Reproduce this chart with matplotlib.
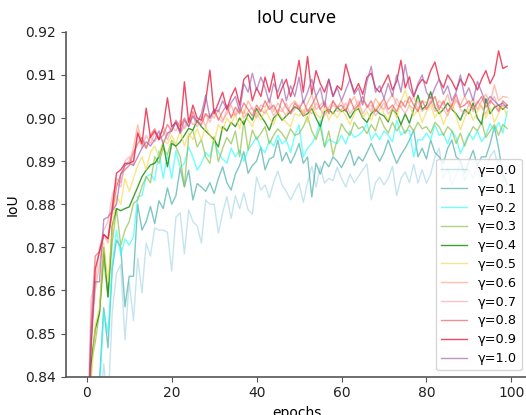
import matplotlib
matplotlib.use("Agg")
import matplotlib.pyplot as plt
import numpy as np

epochs = list(range(100))

# IoU values in thousandths
g00 = [790, 806, 818, 829, 843, 833, 855, 864, 866, 848.5,
       862, 853, 867.5, 859.5, 871, 868, 874.5, 874, 874, 873.5,
       864.5, 877, 878, 868.5, 878.7, 876, 875, 871, 881, 880,
       880, 873.3, 878, 881.8, 876.7, 882, 879, 882.6, 878.7, 877.7,
       886.3, 883.3, 884.5, 881.5, 885, 887.7, 884.5, 883, 881, 883,
       884.9, 880.4, 885, 888.8, 884, 888.8, 884.9, 886, 885.5, 888.6,
       886, 884, 887, 885, 886.5, 888, 889.3, 881, 885, 886.3,
       884.5, 886, 888.8, 882, 886, 887.5, 885, 889.3, 884.9, 888,
       884.9, 887, 891, 893, 886, 888.5, 884.5, 887, 890, 885.5,
       888, 886, 889.5, 884, 887.5, 891, 892.5, 888, 885, 889]
g01 = [800, 812, 826, 839, 856, 846.7, 865, 871.7, 870, 856.2,
       863.3, 863.3, 880, 874, 876, 879.5, 875.5, 880.8, 879, 883.8,
       880, 882, 888.4, 884, 887.9, 881, 884.8, 884, 883, 885,
       882.5, 886, 888.7, 885, 883.3, 887, 889, 892.2, 887.2, 889,
       890, 893.3, 888, 890.5, 891, 894.9, 890, 892, 889.5, 891.5,
       894.1, 889.5, 891, 881.7, 889.5, 887, 890, 888.7, 891, 890,
       888.5, 890.5, 892.6, 889, 891, 890, 892, 894.1, 891.8, 890,
       892, 894.9, 892, 889.5, 891.5, 893, 894.9, 897.2, 891, 893,
       890.5, 894.9, 892, 891, 889.5, 893, 894.9, 891, 890, 887.2,
       890, 892.5, 889, 891, 891, 894, 898, 893, 887, 884.8]
g02 = [795, 808, 820, 838, 855, 850, 866, 874, 868.2, 872,
       870.5, 872.5, 881.7, 882, 886.4, 887, 885.5, 892.4, 886, 891.5,
       886, 892.4, 888.5, 889.5, 893.3, 891, 887.9, 889.5, 892, 891,
       895.3, 892, 890.5, 889.5, 893, 891, 892.6, 890, 892.6, 894,
       895.7, 893, 892, 894.9, 893.5, 896, 894, 894.9, 892, 896,
       898.4, 891, 893, 894.1, 896, 899.5, 893.3, 895, 894.5, 894.1,
       896, 894, 897, 895.5, 896, 897, 898.7, 894.9, 896.5, 895,
       897, 896, 894.5, 899.5, 896, 897, 897.2, 891, 895, 894.9,
       896.5, 895, 898.4, 896, 896.4, 894, 897, 895.5, 891.8, 894,
       896.5, 895, 897, 894.5, 896, 898.7, 897, 899, 896.5, 901.5]
g03 = [805, 843, 848, 855, 867, 858.5, 871, 879, 870.5, 874,
       876, 880.2, 881, 884.1, 886.4, 885, 891, 889.5, 893, 891.5,
       894.9, 893.3, 891, 884.1, 895.7, 897.2, 893.3, 895, 891, 889.5,
       895.7, 889.9, 893, 895.5, 894, 897, 891, 899.5, 892.6, 897.2,
       895, 896.4, 898, 894, 896, 897.5, 896.4, 895, 897.5, 896,
       896.4, 898, 900.3, 897, 895, 898, 893.3, 897, 891.4, 895,
       898.7, 897, 896, 899, 897.5, 898, 896.4, 898.5, 897, 900.3,
       898, 896.5, 899, 897, 898.5, 896.4, 898.4, 897, 899, 897.5,
       898, 896.5, 899, 898, 896, 898, 897, 894.1, 896.5, 893.5,
       896, 898, 897, 899, 895.5, 897, 898.5, 896, 898.5, 897.6]
g04 = [810, 843, 851, 854.8, 870, 858.5, 875, 879, 878.5, 879,
       879.4, 881.7, 884, 886.4, 887.9, 889.1, 889.5, 891, 894.1, 888.7,
       894.1, 893.5, 894.5, 896, 897.6, 897.2, 899.5, 898, 897, 896,
       895, 893.3, 898, 897, 899, 898, 900, 898.5, 901, 899.5,
       902.2, 900.5, 899, 897.2, 900, 901, 899.5, 900.5, 901.5, 902.6,
       902, 900.5, 901, 902.2, 900, 898, 901.5, 902, 901, 902.5,
       901.5, 902, 900, 901.6, 902.2, 900, 899, 901, 902, 901,
       900.5, 899.1, 902, 901, 898.5, 901, 898.8, 902, 905.3, 902,
       903, 906.1, 902.5, 901, 902, 903.5, 902, 901, 899.5, 902,
       901, 903.5, 900, 898.6, 904.5, 901, 902.5, 903, 902, 903]
g05 = [805, 838, 852, 856, 871, 862, 874, 882, 880, 886,
       883, 886, 889, 891, 888, 892, 893.5, 891, 895, 894,
       896, 894, 897, 893.5, 896.5, 895, 897.5, 894.9, 898, 896,
       894.5, 898.5, 897, 900, 898.5, 901, 897.5, 902, 899.5, 898,
       901, 899.5, 902, 900, 898.5, 901.5, 900, 899, 898, 901,
       900.5, 902, 899, 903, 901, 900, 902.5, 899.5, 901.5, 900,
       902, 900.5, 898.5, 901, 903, 900, 901.5, 899.5, 902, 903.5,
       901, 899.5, 902.5, 900, 904, 906.5, 903, 900.5, 902, 899,
       901.5, 903, 900, 902, 898.5, 901, 903.5, 900.5, 897.2, 900,
       902, 899.5, 901.5, 903, 900, 902.5, 899, 901, 903, 900.5]
g06 = [815, 848, 860, 866, 873, 871, 880, 886, 885, 889,
       890, 893, 898.4, 894, 893, 895.5, 894.5, 896, 897, 895,
       897.5, 899, 896.5, 898, 900, 898.5, 899, 900.5, 898, 901,
       900, 902, 899.5, 901, 903, 900.5, 902, 901, 904, 902,
       901, 903, 902.5, 904.5, 901.5, 903.5, 902, 900.5, 903, 904,
       902.5, 901, 903.5, 905.5, 902, 903, 904, 901.5, 903, 902.5,
       904, 902, 903.5, 905, 902.5, 904, 903, 901.5, 904.5, 903,
       902, 904, 905.5, 903, 902.5, 904, 903.5, 905, 902, 904,
       903.5, 905, 902.5, 904, 903, 905.5, 902, 904, 903, 905,
       903, 904.5, 902, 904, 905.5, 903.5, 907.7, 904, 905, 904.8]
g07 = [820, 858, 862, 870, 874, 876, 882, 885, 884, 890,
       891, 889, 897, 893, 896, 894, 896.5, 895, 898, 896,
       898, 897, 899.5, 897.5, 899, 900.5, 898, 899.5, 901, 899,
       901.5, 900, 899, 902, 900.5, 901, 903, 900, 901.5, 902.5,
       900, 902, 901, 903, 900.5, 902, 901.5, 903.5, 901, 902,
       903, 900.5, 902, 901, 903.5, 902, 900.5, 902.5, 904, 901.5,
       902, 903.5, 901, 902.5, 904, 901, 902.5, 903, 900.5, 902,
       903.5, 901, 902, 904.5, 902.5, 901, 903, 902, 904, 901.5,
       902.5, 904, 901.5, 903, 902, 900.5, 903, 904.5, 902, 901,
       903, 901.5, 904, 902.5, 901, 903.5, 905, 902, 903, 902.5]
g08 = [818, 852, 868, 869, 873, 872, 878, 884, 887, 888,
       889, 892, 894, 895.5, 893, 896, 897.5, 895, 896, 898.5,
       897, 899.5, 898, 900, 898, 901.5, 899, 898.5, 901, 900,
       902, 899.5, 901.5, 903, 900, 902.5, 901, 903.5, 902, 900.5,
       903, 901.5, 904, 902, 903, 901, 904.5, 902.5, 901, 903.5,
       902, 904, 901.5, 903, 905, 902, 903.5, 901, 904, 902.5,
       903, 901.5, 904.5, 902, 903, 905, 902.5, 904, 901.5, 903,
       904.5, 902, 903, 901.5, 904, 902.5, 905, 903, 901.5, 904,
       902, 903.5, 905, 902, 904, 901.5, 903, 905.5, 902.5, 903,
       904, 902, 903.5, 905, 902.5, 904, 903, 901.5, 904, 903]
g09 = [822, 846, 865, 869, 873, 872, 879, 887.2, 888, 889.5,
       889.5, 890, 896.5, 894, 902.3, 895.5, 897, 895, 898, 904.7,
       898, 899, 897, 908.4, 899, 903, 900, 899.5, 904, 911.1,
       901, 903.5, 906, 902, 905, 907, 903, 909, 910, 904,
       907, 905, 909.5, 906, 910.5, 904.5, 907, 909, 905, 908,
       913.4, 906, 914.3, 905.5, 911, 908, 906, 909, 905, 907.5,
       906.5, 912.5, 909, 906, 908, 905.5, 909.5, 910.4, 907, 906,
       908, 910, 906.5, 908.5, 913.4, 907, 909.6, 905, 907.5, 909,
       908, 911, 913, 909, 907, 910, 908.5, 906.5, 909, 907.5,
       910.3, 908.8, 906.5, 909, 911, 908, 910, 915.6, 911.5, 912]
g10 = [815, 850, 862, 862, 876.5, 877, 878.5, 880, 887, 889,
       889.5, 889, 891, 893, 894.5, 893.5, 895, 897, 894, 896.5,
       897, 899, 896.5, 899.5, 898, 900.5, 899, 901, 905.3, 900,
       902, 901.5, 904, 902, 903.5, 905, 901.5, 908, 906, 910.4,
       906.5, 909.5, 907, 903.5, 908, 906, 909, 904, 907.5, 905,
       909.5, 903.5, 906, 909, 905, 907, 902.5, 909, 905, 907,
       904, 906.5, 909, 905.5, 907, 903, 908.5, 912, 906, 907.5,
       904.5, 908, 905, 910, 906, 912.4, 907, 905, 908, 910,
       906, 904.5, 907, 909, 905.5, 907.5, 904, 906, 910, 905,
       907, 904, 908.5, 906, 903.5, 905, 904, 903, 903.5, 902.3]

series = [g00, g01, g02, g03, g04, g05, g06, g07, g08, g09, g10]
labels = ["γ=0.0", "γ=0.1", "γ=0.2", "γ=0.3", "γ=0.4", "γ=0.5",
          "γ=0.6", "γ=0.7", "γ=0.8", "γ=0.9", "γ=1.0"]
colors = ["#8ecbe0", "#3aa9a4", "#22ffff", "#8cc04a", "#1f8f10", "#f5d84a",
          "#ff9e80", "#f49aa4", "#ea5f68", "#ea1f40", "#9b5bad"]
alphas = [0.5, 0.65, 0.65, 0.7, 0.85, 0.65, 0.65, 0.6, 0.7, 0.8, 0.65]

fig = plt.figure(figsize=(5.26, 4.15), dpi=100)
ax = fig.add_axes([0.125, 0.0923, 0.879, 0.831])

for vals, lab, c, a in zip(series, labels, colors, alphas):
    ax.plot(epochs, np.array(vals) / 1000.0, color=c, alpha=a, lw=1.0, label=lab)

ax.set_ylim(0.84, 0.92)
ax.set_xticks([0, 20, 40, 60, 80, 100])
yt = [0.84, 0.85, 0.86, 0.87, 0.88, 0.89, 0.90, 0.91, 0.92]
ax.set_yticks(yt)
ax.set_yticklabels([f"{v:.2f}" for v in yt])
for s in ["top", "right"]:
    ax.spines[s].set_visible(False)
for s in ["left", "bottom"]:
    ax.spines[s].set_color("#555555")
    ax.spines[s].set_linewidth(1.2)
ax.tick_params(colors="#555555", labelcolor="#222222")
ax.set_title("IoU curve", fontsize=12)
ax.set_xlabel("epochs")
ax.set_ylabel("IoU")
ax.legend(loc="lower right", fontsize=9.3, labelspacing=0.45)

fig.savefig("out.png", dpi=100)
